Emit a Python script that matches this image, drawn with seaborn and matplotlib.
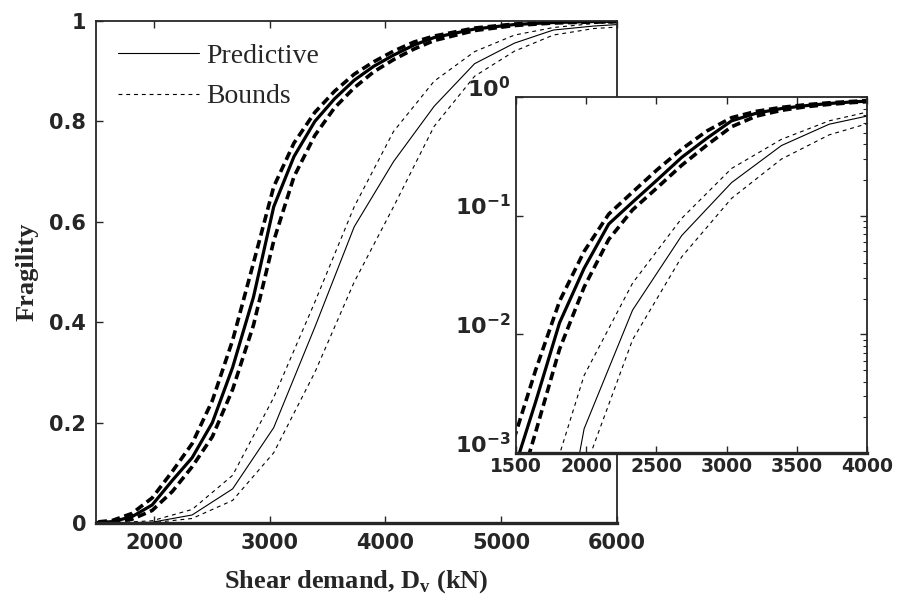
import numpy as np
import pandas as pd
import matplotlib
matplotlib.use("Agg")
import matplotlib.pyplot as plt
from matplotlib.lines import Line2D
import seaborn as sns

# Shear demand nodes (kN) for the heavy curve set
shear_a_kN = [1290, 1465, 1640, 1810, 1985, 2160, 2330, 2505, 2680, 2860, 3035, 3210,
              3390, 3560, 3730, 3900, 4070, 4245, 4420, 4770, 5115, 5450, 5800, 6150]
frag_a_pred = [1.2e-4, 6e-4, 0.0027, 0.0125, 0.036, 0.085, 0.13, 0.20, 0.31, 0.45, 0.63, 0.73,
               0.80, 0.845, 0.882, 0.91, 0.932, 0.952, 0.967, 0.984, 0.993, 0.997, 0.999, 1.0]
frag_a_upper = [2.3e-4, 1.1e-3, 0.005, 0.019, 0.05, 0.103, 0.158, 0.244, 0.364, 0.518, 0.67, 0.757,
                0.818, 0.86, 0.894, 0.919, 0.94, 0.958, 0.970, 0.986, 0.994, 0.998, 0.999, 1.0]
frag_a_lower = [6e-5, 3e-4, 0.0015, 0.0075, 0.025, 0.063, 0.112, 0.172, 0.266, 0.394, 0.562, 0.69,
                0.772, 0.827, 0.867, 0.899, 0.923, 0.944, 0.961, 0.981, 0.991, 0.996, 0.998, 0.999]

# Shear demand nodes (kN) for the light curve set
shear_b_kN = [1290, 1640, 1985, 2330, 2680, 3035, 3390, 3730, 4070, 4420, 4770, 5115, 5450, 5800, 6150]
frag_b_pred = [1e-7, 1e-5, 0.0016, 0.016, 0.068, 0.19, 0.39, 0.59, 0.72, 0.83, 0.915, 0.956, 0.982, 0.99, 0.995]
frag_b_upper = [1e-6, 2.2e-4, 0.0045, 0.027, 0.095, 0.25, 0.44, 0.63, 0.78, 0.88, 0.939, 0.972, 0.987, 0.995, 0.998]
frag_b_lower = [1e-8, 1e-6, 7e-4, 0.009, 0.045, 0.14, 0.30, 0.48, 0.63, 0.79, 0.89, 0.94, 0.972, 0.985, 0.99]

main_xticks = [2000, 3000, 4000, 5000, 6000]
main_yticks = [0, 0.2, 0.4, 0.6, 0.8, 1]
main_yticklabels = ["0", "0.2", "0.4", "0.6", "0.8", "1"]
inset_xticks = [1500, 2000, 2500, 3000, 3500, 4000]
inset_yticks = [1e-3, 1e-2, 1e-1, 1]
inset_yticklabels = [r"$10^{-3}$", r"$10^{-2}$", r"$10^{-1}$", r"$10^{0}$"]

legend_labels = ["Predictive", "Bounds"]

sns.set_style("ticks")
plt.rcParams["mathtext.fontset"] = "dejavusans"
plt.rcParams["mathtext.default"] = "bf"

df_a = pd.DataFrame({"x": shear_a_kN, "pred": frag_a_pred,
                     "up": frag_a_upper, "lo": frag_a_lower})
df_b = pd.DataFrame({"x": shear_b_kN, "pred": frag_b_pred,
                     "up": frag_b_upper, "lo": frag_b_lower})

heavy_solid = dict(color="black", lw=2.3, linestyle="-")
heavy_dash = dict(color="black", lw=2.6, linestyle=(0, (2.4, 1.3)))
light_solid = dict(color="black", lw=0.8, linestyle="-")
light_dash = dict(color="black", lw=0.8, linestyle=(0, (3.5, 3.5)))

curve_styles = [
    (df_a, "up", heavy_dash), (df_a, "lo", heavy_dash), (df_a, "pred", heavy_solid),
    (df_b, "up", light_dash), (df_b, "lo", light_dash), (df_b, "pred", light_solid),
]

fig = plt.figure(figsize=(8.98, 6.0), dpi=100)
ax = fig.add_axes([0.1069, 0.1283, 0.5802, 0.8367])

for d, col, st in curve_styles:
    sns.lineplot(data=d, x="x", y=col, ax=ax, estimator=None, sort=False, **st)

ax.set_xlim(1500, 6000)
ax.set_ylim(0, 1)
ax.set_xticks(main_xticks)
ax.set_yticks(main_yticks)
ax.set_yticklabels(main_yticklabels)
ax.tick_params(direction="in", top=True, right=True, length=5, width=1.0,
               labelsize=15, pad=7)
for lab in ax.get_xticklabels() + ax.get_yticklabels():
    lab.set_fontweight("bold")
    lab.set_family("DejaVu Sans")
ax.set_xlabel(r"Shear demand, D$_\mathregular{v}$ (kN)", fontsize=19,
              fontweight="bold", family="Liberation Serif", labelpad=11)
ax.set_ylabel("Fragility", fontsize=19, fontweight="bold",
              family="Liberation Serif", labelpad=8)
for side in ["top", "left", "right"]:
    ax.spines[side].set_linewidth(1.3)
ax.spines["bottom"].set_linewidth(2.4)

handles = [Line2D([], [], **light_solid), Line2D([], [], **light_dash)]
leg = ax.legend(handles, legend_labels, loc="upper left", frameon=False,
                prop={"family": "Liberation Serif", "size": 20},
                handlelength=2.9, handletextpad=0.25, borderaxespad=0.4,
                labelspacing=0.55)

# Log-scale inset of the lower tail
axi = fig.add_axes([0.5746, 0.245, 0.391, 0.5933])
axi.set_facecolor("white")
for d, col, st in curve_styles:
    sns.lineplot(data=d, x="x", y=col, ax=axi, estimator=None, sort=False, **st)
axi.set_yscale("log")
axi.set_xlim(1500, 4000)
axi.set_ylim(1e-3, 1)
axi.set_xticks(inset_xticks)
axi.set_yticks(inset_yticks)
axi.set_yticklabels(inset_yticklabels)
axi.set_xlabel("")
axi.set_ylabel("")
axi.tick_params(which="major", direction="in", top=True, right=True, length=5,
                width=1.0, labelsize=13.5, pad=3)
axi.tick_params(axis="y", which="major", labelsize=16, pad=4)
axi.tick_params(which="minor", direction="in", top=False, right=True, left=False,
                length=3, width=0.8)
for lab in axi.get_xticklabels() + axi.get_yticklabels():
    lab.set_fontweight("bold")
    lab.set_family("DejaVu Sans")
for lab in axi.get_yticklabels():
    lab.set_verticalalignment("baseline")
for side in ["top", "left", "right"]:
    axi.spines[side].set_linewidth(1.3)
axi.spines["bottom"].set_linewidth(2.4)

fig.savefig("out.png", dpi=100, facecolor="white")
